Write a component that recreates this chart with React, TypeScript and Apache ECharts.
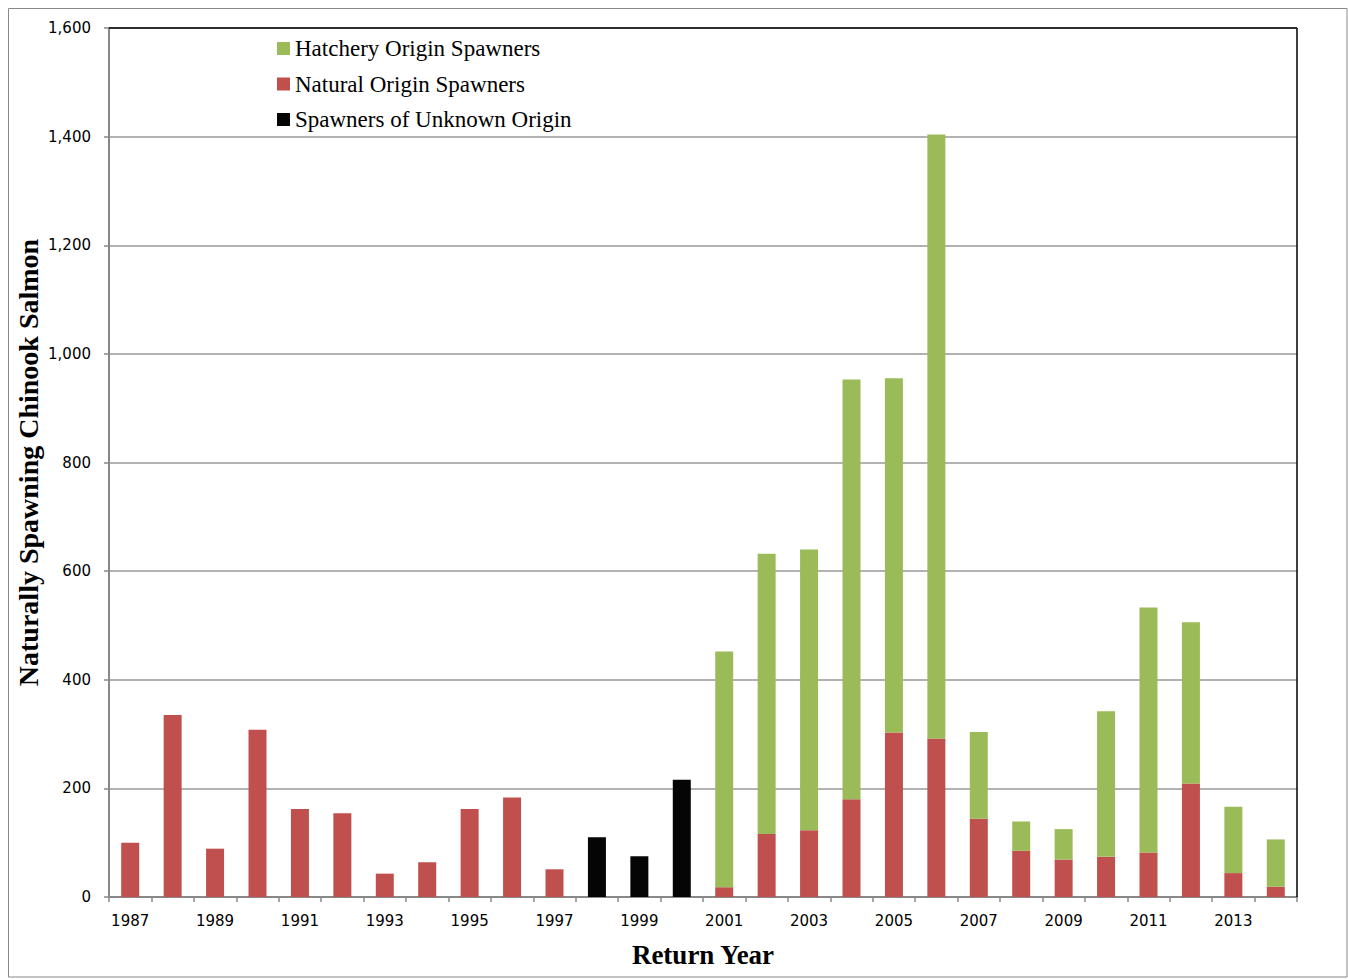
import React, { useEffect, useRef } from "react";
import * as echarts from "echarts";

const years = [
  "1987", "1988", "1989", "1990", "1991", "1992", "1993", "1994", "1995", "1996",
  "1997", "1998", "1999", "2000", "2001", "2002", "2003", "2004", "2005", "2006",
  "2007", "2008", "2009", "2010", "2011", "2012", "2013", "2014",
];

const naturalOrigin = [
  100, 335, 89, 308, 162, 154, 43, 64, 162, 183,
  51, null, null, null, 18, 116, 123, 180, 303, 292,
  144, 85, 69, 74, 82, 209, 44, 19,
];

const hatcheryOrigin = [
  null, null, null, null, null, null, null, null, null, null,
  null, null, null, null, 434, 516, 517, 773, 652, 1112,
  160, 54, 56, 268, 451, 297, 122, 87,
];

const unknownOrigin = [
  null, null, null, null, null, null, null, null, null, null,
  null, 110, 75, 216, null, null, null, null, null, null,
  null, null, null, null, null, null, null, null,
];

const yTicks = { min: 0, max: 1600, interval: 200 };

const W = 1340;
const H = 970;
const G = { left: 101, top: 20, width: 1188, height: 869 };

export default function App() {
  const ref = useRef<HTMLDivElement>(null);

  useEffect(() => {
    const chart = echarts.init(ref.current as HTMLDivElement, null, { renderer: "svg" });
    const sans = "DejaVu Sans";
    const serif = "Liberation Serif";
    chart.setOption({
      animation: false,
      backgroundColor: "#fff",
      grid: { left: G.left, top: G.top, width: G.width, height: G.height, containLabel: false },
      legend: {
        orient: "vertical",
        left: 269,
        top: 29,
        padding: 0,
        itemWidth: 13,
        itemHeight: 13,
        itemGap: 12.5,
        icon: "rect",
        selectedMode: false,
        data: ["Hatchery Origin Spawners", "Natural Origin Spawners", "Spawners of Unknown Origin"],
        textStyle: { fontFamily: serif, fontSize: 23, color: "#000" },
      },
      xAxis: {
        type: "category",
        data: years,
        axisLine: { show: true, lineStyle: { color: "#888", width: 2 } },
        axisTick: { show: true, interval: 0, length: 5, lineStyle: { color: "#888", width: 1.5 } },
        axisLabel: { interval: 1, margin: 16, fontFamily: sans, fontSize: 15, color: "#000" },
        splitLine: { show: false },
      },
      yAxis: {
        type: "value",
        min: yTicks.min,
        max: yTicks.max,
        interval: yTicks.interval,
        axisLine: { show: true, lineStyle: { color: "#888", width: 2 } },
        axisTick: { show: true, length: 5, lineStyle: { color: "#888", width: 1.5 } },
        axisLabel: {
          margin: 18,
          fontFamily: sans,
          fontSize: 15,
          color: "#000",
          formatter: (v: number) => v.toLocaleString("en-US"),
        },
        splitLine: { show: true, lineStyle: { color: "#999", width: 1.5 } },
      },
      series: [
        {
          name: "Natural Origin Spawners",
          type: "bar",
          stack: "total",
          barWidth: 18,
          data: naturalOrigin,
          itemStyle: { color: "#C0504D" },
        },
        {
          name: "Hatchery Origin Spawners",
          type: "bar",
          stack: "total",
          barWidth: 18,
          data: hatcheryOrigin,
          itemStyle: { color: "#9BBB59" },
        },
        {
          name: "Spawners of Unknown Origin",
          type: "bar",
          stack: "total",
          barWidth: 18,
          data: unknownOrigin,
          itemStyle: { color: "#050505" },
        },
      ],
      graphic: [
        {
          type: "rect",
          z: 100,
          shape: { x: 0.5, y: 0.5, width: W - 1.5, height: H - 1.5 },
          style: { fill: "none", stroke: "#888", lineWidth: 1 },
          silent: true,
        },
        {
          type: "line",
          z: 100,
          shape: { x1: G.left, y1: G.top, x2: G.left + G.width, y2: G.top },
          style: { stroke: "#000", lineWidth: 1.5 },
          silent: true,
        },
        {
          type: "line",
          z: 100,
          shape: { x1: G.left + G.width, y1: G.top, x2: G.left + G.width, y2: G.top + G.height },
          style: { stroke: "#000", lineWidth: 1.5 },
          silent: true,
        },
        {
          type: "text",
          z: 100,
          x: 20,
          y: G.top + G.height / 2,
          rotation: Math.PI / 2,
          style: {
            text: "Naturally Spawning Chinook Salmon",
            fontFamily: serif,
            fontWeight: "bold",
            fontSize: 28,
            fill: "#000",
            align: "center",
            verticalAlign: "middle",
          },
        },
        {
          type: "text",
          z: 100,
          x: G.left + G.width / 2,
          y: 947,
          style: {
            text: "Return Year",
            fontFamily: serif,
            fontWeight: "bold",
            fontSize: 27,
            fill: "#000",
            align: "center",
            verticalAlign: "middle",
          },
        },
      ],
    });
    return () => chart.dispose();
  }, []);

  return (
    <div
      ref={ref}
      style={{ position: "absolute", left: 8, top: 8, width: W, height: H }}
    />
  );
}
